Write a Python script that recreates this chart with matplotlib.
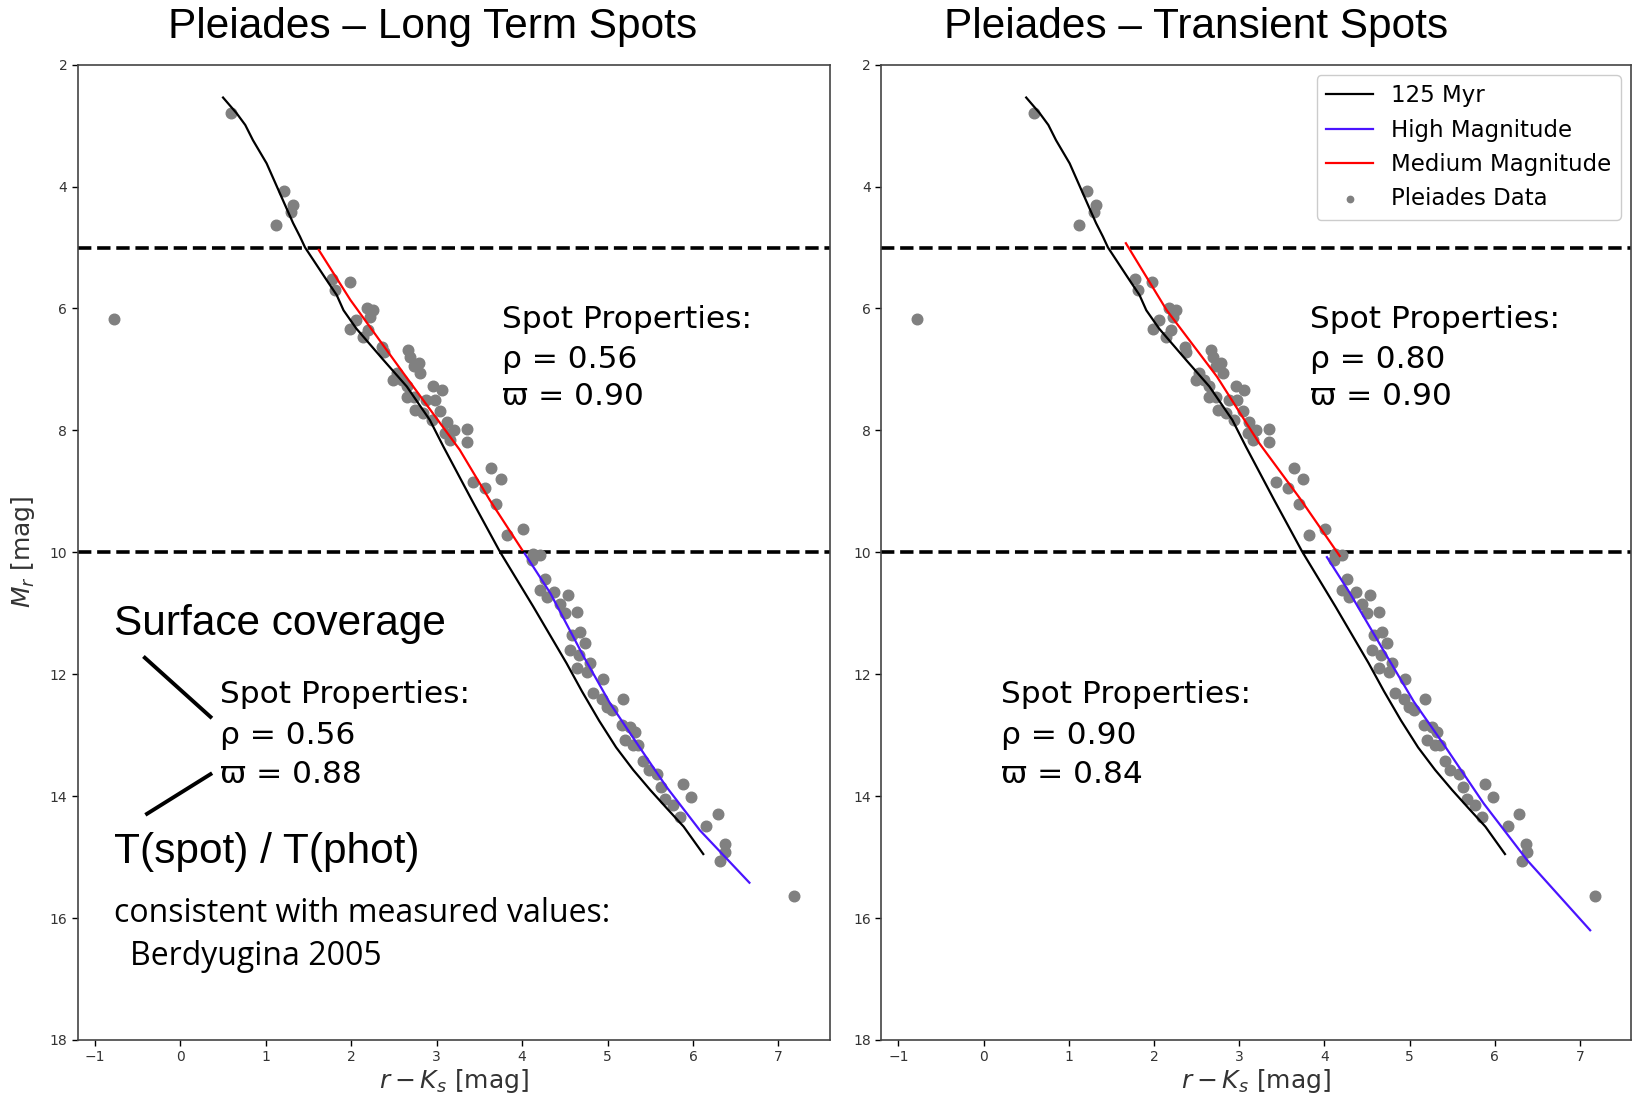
import matplotlib.pyplot as plt

# 125 Myr isochrone (same in both panels)
iso_x = [0.50, 0.66, 0.76, 0.85, 0.93, 1.01, 1.07, 1.13, 1.19, 1.25, 1.32, 1.40, 1.46,
         1.71, 1.83, 1.91, 2.06, 2.38, 2.65, 2.92, 3.08, 3.41, 3.74, 4.13, 4.52,
         4.70, 4.90, 5.10, 5.30, 5.50, 5.70, 5.89, 6.12]
iso_y = [2.54, 2.80, 2.99, 3.24, 3.43, 3.62, 3.81, 4.00, 4.19, 4.38, 4.60, 4.82, 5.00,
         5.53, 5.78, 6.03, 6.33, 6.85, 7.28, 7.83, 8.27, 9.14, 9.99, 10.89, 11.82,
         12.28, 12.76, 13.20, 13.57, 13.90, 14.21, 14.50, 14.95]

# long term spots fits
med_long_x = [1.62, 1.99, 2.61, 3.27, 3.62, 4.00]
med_long_y = [5.04, 5.86, 7.06, 8.32, 9.14, 9.96]
high_long_x = [4.03, 4.33, 4.72, 5.03, 5.38, 5.69, 6.08, 6.66]
high_long_y = [10.02, 10.67, 11.71, 12.48, 13.21, 13.85, 14.56, 15.42]

# transient spots fits
med_trans_x = [1.67, 2.15, 2.74, 3.23, 3.71, 4.18]
med_trans_y = [4.93, 6.03, 7.12, 8.20, 9.11, 10.06]
high_trans_x = [4.03, 4.30, 4.69, 5.05, 5.40, 5.87, 6.38, 7.12]
high_trans_y = [10.08, 10.67, 11.60, 12.45, 13.15, 14.12, 15.05, 16.20]

# Pleiades members
pl_x = [-0.78, 0.59, 1.21, 1.32, 1.30, 1.12, 1.78, 1.98, 1.81, 2.18, 2.26, 2.22,
        2.06, 1.99, 2.14, 2.20, 2.36, 2.38, 2.67, 2.79, 2.69, 2.73, 2.81, 2.53,
        2.59, 2.49, 2.65, 2.96, 3.06, 2.73, 2.65, 2.98, 2.88, 2.75, 2.84, 2.94,
        3.04, 3.12, 3.35, 3.10, 3.16, 3.35, 3.20, 3.64, 3.75, 3.43, 3.57, 3.70,
        4.01, 3.82, 4.13, 4.21, 4.11, 4.27, 4.21, 4.37, 4.29, 4.54, 4.44, 4.50,
        4.64, 4.68, 4.58, 4.74, 4.56, 4.66, 4.79, 4.64, 4.76, 4.95, 4.83, 4.93,
        5.18, 4.99, 5.05, 5.17, 5.26, 5.32, 5.20, 5.30, 5.36, 5.42, 5.48, 5.58,
        5.63, 5.67, 5.77, 5.85, 5.88, 5.98, 6.15, 6.29, 6.37, 6.38, 6.32, 7.18]
pl_y = [6.18, 2.79, 4.07, 4.31, 4.41, 4.63, 5.52, 5.56, 5.70, 6.00, 6.03, 6.14,
        6.19, 6.33, 6.46, 6.35, 6.63, 6.71, 6.68, 6.90, 6.79, 6.95, 7.06, 7.06,
        7.17, 7.17, 7.28, 7.28, 7.34, 7.45, 7.45, 7.50, 7.50, 7.66, 7.72, 7.83,
        7.69, 7.86, 7.97, 8.05, 8.16, 8.19, 7.99, 8.62, 8.79, 8.84, 8.95, 9.20,
        9.62, 9.72, 10.02, 10.04, 10.13, 10.43, 10.62, 10.65, 10.73, 10.70, 10.84, 11.00,
        10.98, 11.30, 11.36, 11.49, 11.60, 11.68, 11.82, 11.90, 11.96, 12.08, 12.31, 12.40,
        12.40, 12.53, 12.59, 12.83, 12.86, 12.94, 13.08, 13.16, 13.16, 13.43, 13.57, 13.63,
        13.85, 14.04, 14.15, 14.34, 13.80, 14.01, 14.49, 14.30, 14.79, 14.91, 15.06, 15.63]

titles = ["Pleiades \u2013 Long Term Spots", "Pleiades \u2013 Transient Spots"]
upper_props = [("0.56", "0.90"), ("0.80", "0.90")]
lower_props = [("0.56", "0.88"), ("0.90", "0.84")]

blue = "#4a14ff"
spot_font = "DejaVu Sans"

fig = plt.figure(figsize=(16.34, 10.99), dpi=100)
ax1 = fig.add_axes([0.0476, 0.0537, 0.4602, 0.8875])
ax2 = fig.add_axes([0.5394, 0.0537, 0.4588, 0.8875])

fits = [(med_long_x, med_long_y, high_long_x, high_long_y),
        (med_trans_x, med_trans_y, high_trans_x, high_trans_y)]
upper_x = [3.76, 3.83]
lower_x = [0.46, 0.21]

for i, ax in enumerate([ax1, ax2]):
    mx, my, hx, hy = fits[i]
    ax.plot(iso_x, iso_y, color="black", lw=1.6, label="125 Myr", zorder=3)
    ax.plot(hx, hy, color=blue, lw=1.6, label="High Magnitude", zorder=4)
    ax.plot(mx, my, color="red", lw=1.6, label="Medium Magnitude", zorder=4)
    ax.scatter(pl_x, pl_y, s=58, color="grey", label="Pleiades Data", zorder=2)
    ax.axhline(5, color="black", ls="--", lw=2.6, zorder=1)
    ax.axhline(10, color="black", ls="--", lw=2.6, zorder=1)

    ax.set_xlim(-1.2, 7.6)
    ax.set_ylim(18, 2)
    ax.set_yticks(range(2, 19, 2))
    ax.set_xticks(range(-1, 8))
    ax.tick_params(labelsize=10, labelcolor="#333333", length=4, width=1)
    for sp in ax.spines.values():
        sp.set_linewidth(1.2)
        sp.set_color("#444444")
    ax.set_xlabel("$r - K_s$ [mag]", fontsize=18, color="#333333", labelpad=2)

    # spot property annotations
    r, w = upper_props[i]
    ux = upper_x[i]
    ax.text(ux, 6.18, "Spot Properties:", fontsize=22.5, family=spot_font, va="center")
    ax.text(ux, 6.83, "\u03c1 = " + r, fontsize=22.5, family=spot_font, va="center")
    ax.text(ux, 7.45, "\u03d6 = " + w, fontsize=22.5, family=spot_font, va="center")
    r, w = lower_props[i]
    lx = lower_x[i]
    ax.text(lx, 12.34, "Spot Properties:", fontsize=22.5, family=spot_font, va="center")
    ax.text(lx, 13.00, "\u03c1 = " + r, fontsize=22.5, family=spot_font, va="center")
    ax.text(lx, 13.65, "\u03d6 = " + w, fontsize=22.5, family=spot_font, va="center")

    fig.text([0.2645, 0.732][i], 0.975, titles[i], fontsize=30.5,
             family="Liberation Sans", ha="center", va="center")

ax2.legend(loc="upper right", fontsize=16.5, markerscale=0.6, handlelength=2.05,
           framealpha=1, edgecolor="#cccccc", borderaxespad=0.45)

fig.text(0.014, 0.498, "$M_r$ [mag]", rotation=90, fontsize=18, color="#333333",
         ha="center", va="center")

# explanation on the left panel
ax1.text(-0.78, 11.18, "Surface coverage", fontsize=30.5, family="Liberation Sans", va="center")
ax1.text(-0.78, 14.92, "T(spot) / T(phot)", fontsize=30.5, family="Liberation Sans", va="center")
ax1.text(-0.78, 15.93, "consistent with measured values:", fontsize=23,
         family="Open Sans", va="center")
ax1.text(-0.585, 16.63, "Berdyugina 2005", fontsize=23, family="Open Sans", va="center")
ax1.plot([-0.415, 0.353], [11.73, 12.70], color="black", lw=2.8)
ax1.plot([-0.39, 0.353], [14.29, 13.64], color="black", lw=2.8)

fig.savefig("out.png", dpi=100)
